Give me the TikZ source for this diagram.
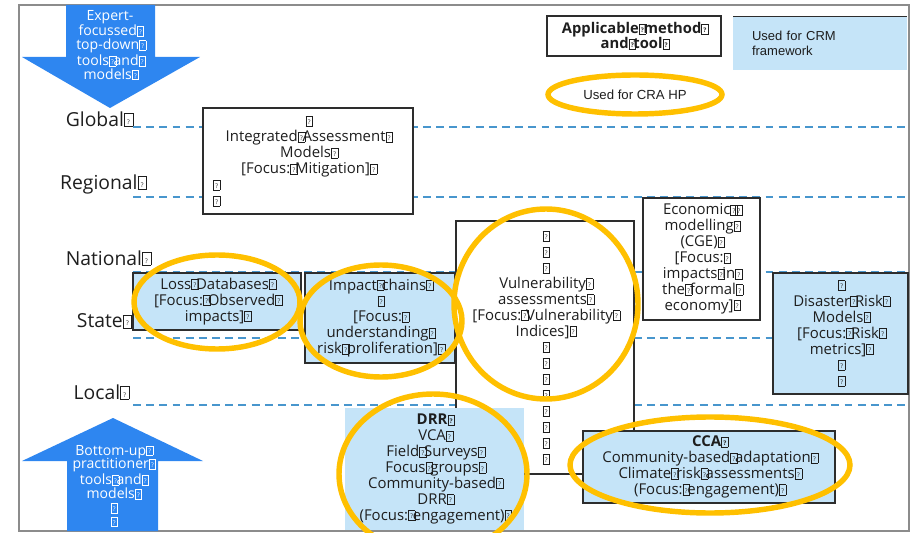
\documentclass[tikz,border=0pt]{standalone}
\usepackage{fontspec}
\setmainfont{Open Sans}
\newfontfamily\arialfont{Liberation Sans}
\usetikzlibrary{shapes.geometric}
\definecolor{arrowblue}{RGB}{46,134,240}
\definecolor{toolblue}{RGB}{197,228,248}
\definecolor{hpyellow}{RGB}{255,192,0}
\definecolor{levelblue}{RGB}{72,150,205}
\definecolor{boxline}{RGB}{45,45,45}
\definecolor{framegray}{RGB}{140,140,140}
\definecolor{inktext}{RGB}{30,30,30}
\newcommand{\nb}{\makebox[0.32em][l]{\setlength{\fboxsep}{0pt}\setlength{\fboxrule}{0.3pt}\fbox{\makebox[0.42em]{\rule{0pt}{0.64em}\raisebox{0.1em}{\fontsize{3.6}{3.6}\selectfont ?}}}}}

\begin{document}
\begin{tikzpicture}[x=0.02cm, y=-0.02cm,
  lvl/.style={text=inktext, font=\fontsize{11}{13}\selectfont},
  scale line/.style={levelblue, line width=0.8pt, dash pattern=on 4.5pt off 3pt},
  tool/.style={draw=boxline, line width=0.7pt, fill=white, inner sep=0pt, align=center, text=inktext, font=\fontsize{8.5}{9.07}\selectfont},
  tool blue/.style={tool, fill=toolblue},
  hp/.style={hpyellow, line width=3.1pt},
  arrow text/.style={text=white, align=center, inner sep=0pt, font=\fontsize{8}{7.9}\selectfont}]
\useasboundingbox (0,0) rectangle (912,533);
\clip (0,0) rectangle (912,533);
\draw[framegray, line width=1.1pt] (19,5) rectangle (909,531);

\fill[arrowblue] (66,5) -- (155,5) -- (155,57) -- (200,57) -- (110,108) -- (22,57) -- (66,57) -- cycle;
\node[arrow text] (topdown) at (110,45) {Expert-\\focussed\nb\\top-down\nb\\tools\nb and\nb\\models\nb};
\fill[arrowblue] (67,531) -- (67,461) -- (22,461) -- (113,418) -- (203,461) -- (158,461) -- (158,531) -- cycle;
\node[arrow text] (bottomup) at (113,486) {Bottom-up\nb\\practitioner\nb\\tools\nb and\nb\\models\nb\\\nb\\\nb};

\foreach \ly in {127,197,272,338,405}{
  \draw[scale line] (133,\ly) -- (905,\ly);
}
\foreach \lname/\ltext/\lx/\ly in {global/Global/98/119, regional/Regional/102/184, national/National/107/258, state/State/103/321, local/Local/100/392}{
  \node[lvl] (\lname) at (\lx,\ly) {\ltext\nb};
}

\node[tool, minimum width=4.2cm, minimum height=2.12cm] (iam) at (308,161) {\nb\\Integrated\nb Assessment\nb\\Models\nb\\{}[Focus:\nb Mitigation]\nb\\\makebox[3.8cm][l]{\nb}\\\makebox[3.8cm][l]{\nb}};
\node[tool, minimum width=2.34cm, minimum height=2.44cm] (econ) at (701.5,259) {Economic\nb\nb\\modelling\nb\\(CGE)\nb\\{}[Focus:\nb\\impacts\nb in\nb\\the\nb formal\nb\\economy]\nb};
\node[tool, minimum width=3.56cm, minimum height=5.06cm] (vuln) at (545,347.5) {\nb\\\nb\\\nb\\Vulnerability\nb\\assessments\nb\\{}[Focus:\nb Vulnerability\nb\\Indices]\nb\\\nb\\\nb\\\nb\\\nb\\\nb\\\nb\\\nb\\\nb};
\node[tool blue, minimum width=3.36cm, minimum height=1.14cm] (loss) at (217,301.5) {Loss\nb Databases\nb\\{}[Focus:\nb Observed\nb\\impacts]\nb};
\node[tool blue, minimum width=3.0cm, minimum height=1.8cm] (impact) at (380,318) {Impact\nb chains\nb\\\nb\\{}[Focus:\nb\\understanding\nb\\risk\nb proliferation]\nb};
\node[tool blue, minimum width=2.7cm, minimum height=2.42cm] (drm) at (840.5,333.5) {\nb\\Disaster\nb Risk\nb\\Models\nb\\{}[Focus:\nb Risk\nb\\metrics]\nb\\\nb\\\nb};
\node[tool blue, draw=none, minimum width=3.58cm, minimum height=2.44cm] (drr) at (434.5,469) {\textbf{DRR\nb}\\VCA\nb\\Field\nb Surveys\nb\\Focus\nb groups\nb\\Community-based\nb\\DRR\nb\\(Focus:\nb engagement)\nb};
\node[tool blue, minimum width=5.04cm, minimum height=1.44cm] (cca) at (709,467) {\textbf{CCA\nb}\\Community-based\nb adaptation\nb\\Climate\nb risk\nb assessments\nb\\(Focus:\nb engagement)\nb};

\node[tool, minimum width=3.48cm, minimum height=0.8cm, font=\fontsize{8.4}{8.5}\selectfont\bfseries] (legend) at (634,36) {Applicable\nb method\nb\\and\nb tool\nb};
\draw[boxline, line width=0.5pt] (733,56) |- (907,16);
\node[fill=toolblue, text=inktext, minimum height=1.06cm, text width=2.72cm, inner xsep=0.38cm, align=left, font=\arialfont\fontsize{7.4}{8.5}\selectfont] (crm) at (820,43.5) {Used for CRM\\framework};
\node[draw=hpyellow, line width=3.1pt, ellipse, minimum width=3.48cm, minimum height=0.78cm, text=inktext, font=\arialfont\fontsize{7.5}{9}\selectfont] (crahp) at (635,94.5) {Used for CRA HP};

\draw[hp] (217,302) ellipse [x radius=83, y radius=47];
\draw[hp] (381,321) ellipse [x radius=81, y radius=56];
\draw[hp] (546,304) ellipse [x radius=92, y radius=95];
\draw[hp] (433,474) ellipse [x radius=94, y radius=80];
\draw[hp] (710,465) ellipse [x radius=140, y radius=48];
\end{tikzpicture}
\end{document}
